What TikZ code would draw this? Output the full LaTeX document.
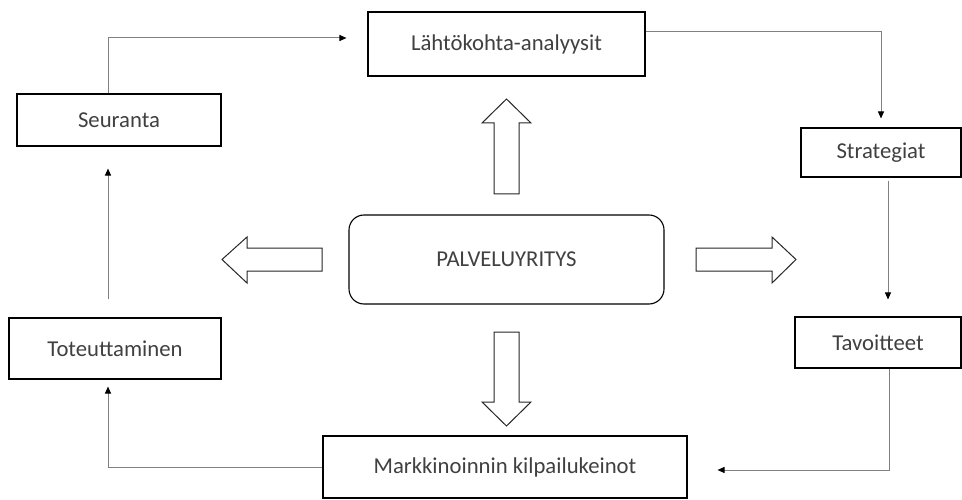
\documentclass[tikz,border=0pt]{standalone}
\usepackage{fontspec}
\setmainfont{Carlito}
\usetikzlibrary{arrows.meta,calc}
\begin{document}
\begin{tikzpicture}[x=1pt,y=-1pt,
  box/.style={draw=black,line width=1.1pt,inner sep=0pt,text=black!75,
    font=\fontsize{22.7}{27}\selectfont},
  conn/.style={draw=black!50,line width=1pt,-{Triangle[length=7pt,width=6pt,color=black]}},
  blockarrow/.style={draw=black!85,line width=1pt,fill=white,line join=miter}]
\useasboundingbox (0,0) rectangle (962,500);
\fill[white] (0,0) rectangle (962,500);
% boxes
\node[box,minimum width=277pt,minimum height=64pt] (lahto) at (506.5,44) {Lähtökohta-analyysit};
\node[box,minimum width=204pt,minimum height=52pt] (seur) at (119,120) {Seuranta};
\node[box,minimum width=160pt,minimum height=49pt] (strat) at (881,152.5) {Strategiat};
\node[box,rounded corners=15pt,minimum width=315pt,minimum height=89pt] (palv) at (506.5,259.5) {PALVELUYRITYS};
\node[box,minimum width=212pt,minimum height=61pt] (tot) at (115,348.5) {Toteuttaminen};
\node[box,minimum width=166pt,minimum height=51pt] (tav) at (878,342.5) {Tavoitteet};
\node[box,minimum width=364pt,minimum height=62pt] (mark) at (505,467) {Markkinoinnin kilpailukeinot};
% block arrows
\draw[blockarrow] (494,194) -- (494,123) -- (482,123) -- (506.5,99) -- (531,123) -- (519,123) -- (519,194) -- cycle;
\draw[blockarrow] (494,332) -- (494,402) -- (482,402) -- (506.5,426) -- (531,402) -- (519,402) -- (519,332) -- cycle;
\draw[blockarrow] (322,248) -- (247,248) -- (247,237) -- (222,259.5) -- (247,283) -- (247,271) -- (322,271) -- cycle;
\draw[blockarrow] (696,248) -- (772,248) -- (772,237) -- (796,259.5) -- (772,283) -- (772,271) -- (696,271) -- cycle;
% connectors
\draw[conn] ($(seur.north)+(-11,0)$) |- ($(lahto.west)+(-21,-6)$);
\draw[conn] ($(lahto.east)+(0,-12)$) -| ($(strat.north)+(0,-9)$);
\draw[conn] ($(strat.south)+(7,3)$) -- ($(tav.north)+(10,-17)$);
\draw[conn] ($(tav.south)+(11,0)$) |- ($(mark.east)+(30,3)$);
\draw[conn] (mark.west) -| ($(tot.south)+(-7,7)$);
\draw[conn] ($(tot.north)+(-7,-18)$) -- ($(seur.south)+(-11,22)$);
\end{tikzpicture}
\end{document}
